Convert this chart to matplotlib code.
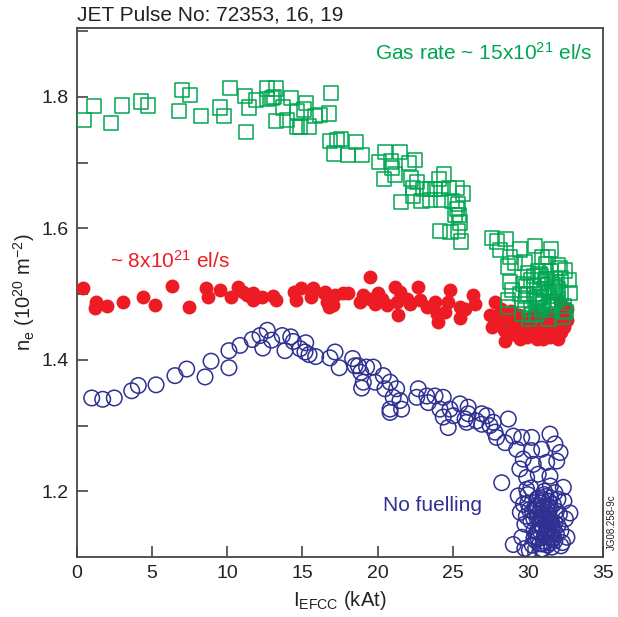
import matplotlib
matplotlib.use('Agg')
import matplotlib.pyplot as plt

plt.rcParams['font.family'] = ['Liberation Sans', 'DejaVu Sans']
plt.rcParams['mathtext.fontset'] = 'custom'
plt.rcParams['mathtext.rm'] = 'Liberation Sans'
plt.rcParams['mathtext.it'] = 'Liberation Sans'

# gas rate ~15e21 el/s (green squares)
gas15_x = [0.49, 1.15, 2.26, 2.97, 4.26, 4.70, 7.01, 7.52, 6.77, 8.25, 9.53, 9.76, 10.16,
           11.18, 11.44, 11.89, 11.24, 12.62, 13.24, 12.62, 12.95, 13.11, 13.73, 14.26,
           13.24, 13.99, 14.62, 15.24, 15.10, 14.62, 14.84, 15.42, 15.84, 16.17, 16.79,
           16.90, 16.83, 17.28, 17.57, 18.54, 17.10, 18.05, 18.98, 20.49, 21.51, 20.11,
           20.87, 20.96, 21.16, 20.43, 22.07, 22.47, 22.20, 22.60, 24.44, 24.07, 22.38,
           23.04, 23.49, 23.84, 24.20, 24.77, 25.30, 25.66, 22.38, 22.93, 23.49, 24.20,
           24.93, 21.56, 25.37, 25.30, 25.15, 25.44, 25.48, 24.15, 24.86, 25.33, 25.55,
           27.63, 27.94, 28.52, 28.14, 29.47, 30.47, 31.54, 28.81, 30.92, 31.32, 32.02,
           32.47, 28.66, 29.14, 32.75, 32.80, 28.81, 28.92, 28.70, 28.70,
           29.6, 29.8, 30.0, 30.2, 30.4, 30.6, 30.8, 31.0, 31.2, 31.4, 31.6, 31.8, 32.0,
           32.2, 32.4, 29.7, 30.1, 30.5, 30.9, 31.3, 31.7, 32.1, 32.5, 29.9, 30.3, 30.7,
           31.1, 31.5, 31.9, 32.3, 29.5, 30.0, 30.6, 31.2, 31.8, 32.4, 30.2, 30.8, 31.4,
           32.0, 30.4, 31.0, 31.6, 29.8, 32.2, 30.6, 31.2, 31.7, 29.9, 30.9, 31.5]
gas15_y = [1.765, 1.786, 1.761, 1.787, 1.793, 1.787, 1.811, 1.803, 1.779, 1.771, 1.784,
           1.771, 1.814, 1.802, 1.784, 1.796, 1.747, 1.813, 1.813, 1.797, 1.798, 1.800,
           1.784, 1.798, 1.763, 1.765, 1.778, 1.791, 1.781, 1.754, 1.754, 1.755, 1.771,
           1.773, 1.775, 1.806, 1.733, 1.735, 1.736, 1.732, 1.714, 1.712, 1.712, 1.716,
           1.716, 1.701, 1.702, 1.692, 1.682, 1.675, 1.700, 1.704, 1.676, 1.671, 1.682,
           1.675, 1.661, 1.660, 1.660, 1.660, 1.660, 1.661, 1.661, 1.653, 1.650, 1.642,
           1.643, 1.643, 1.642, 1.640, 1.637, 1.629, 1.621, 1.620, 1.609, 1.596, 1.594,
           1.596, 1.580, 1.585, 1.580, 1.584, 1.567, 1.568, 1.573, 1.568, 1.556, 1.557,
           1.557, 1.544, 1.536, 1.542, 1.547, 1.521, 1.502, 1.519, 1.506, 1.491, 1.480,
           1.470, 1.485, 1.500, 1.478, 1.512, 1.495, 1.530, 1.488, 1.520, 1.503, 1.476,
           1.510, 1.492, 1.525, 1.482, 1.515, 1.462, 1.493, 1.527, 1.480, 1.505, 1.540,
           1.473, 1.498, 1.468, 1.535, 1.507, 1.483, 1.518, 1.465, 1.500, 1.532, 1.490,
           1.545, 1.511, 1.475, 1.522, 1.496, 1.463, 1.508, 1.528, 1.486, 1.515, 1.548,
           1.500, 1.470, 1.523, 1.490, 1.512, 1.478, 1.535]

# gas rate ~8e21 el/s (red dots)
gas8_x = [0.42, 1.26, 1.20, 2.02, 3.08, 4.37, 5.19, 6.30, 7.45, 8.58, 8.70, 9.51, 10.23,
          10.73, 11.02, 11.29, 11.73, 11.73, 12.29, 13.06, 13.24, 14.44, 14.90, 14.57,
          15.72, 15.57, 16.43, 16.79, 16.50, 17.17, 17.72, 18.05, 16.61, 17.05, 19.49,
          19.05, 18.83, 19.49, 20.05, 20.27, 19.83, 20.61, 21.16, 21.49, 21.27, 21.38,
          21.94, 22.16, 22.71, 22.82, 23.27, 23.82, 23.93, 24.04, 24.82, 24.70, 24.48,
          25.48, 25.48, 25.82, 26.37, 26.48, 27.81, 27.48, 27.59, 28.26, 28.48, 29.03,
          29.47, 29.92, 30.59, 31.02, 31.47, 32.02, 32.14, 32.58, 32.58, 32.14,
          28.0, 28.4, 28.8, 29.2, 29.6, 30.0, 30.4, 30.8, 31.2, 31.6, 32.0, 32.4, 28.2,
          28.6, 29.0, 29.4, 29.8, 30.2, 30.6, 31.0, 31.4, 31.8, 32.2, 28.9, 29.7, 30.5,
          31.3, 32.1, 29.3, 30.1, 30.9, 31.7]
gas8_y = [1.510, 1.488, 1.479, 1.482, 1.488, 1.496, 1.483, 1.512, 1.480, 1.510, 1.496,
          1.507, 1.495, 1.511, 1.504, 1.498, 1.501, 1.491, 1.496, 1.497, 1.491, 1.504,
          1.510, 1.491, 1.510, 1.496, 1.501, 1.480, 1.503, 1.498, 1.501, 1.501, 1.488,
          1.483, 1.526, 1.498, 1.488, 1.493, 1.501, 1.493, 1.485, 1.483, 1.511, 1.503,
          1.488, 1.468, 1.493, 1.485, 1.511, 1.491, 1.480, 1.488, 1.470, 1.458, 1.506,
          1.488, 1.473, 1.480, 1.463, 1.478, 1.498, 1.485, 1.488, 1.468, 1.450, 1.455,
          1.429, 1.440, 1.432, 1.435, 1.432, 1.432, 1.435, 1.432, 1.447, 1.460, 1.478,
          1.488,
          1.465, 1.445, 1.470, 1.452, 1.462, 1.448, 1.458, 1.444, 1.455, 1.447, 1.462,
          1.450, 1.478, 1.458, 1.448, 1.468, 1.440, 1.465, 1.442, 1.460, 1.440, 1.456,
          1.442, 1.475, 1.455, 1.470, 1.466, 1.470, 1.438, 1.452, 1.445, 1.468]

# no fuelling (blue open circles)
nofuel_x = [0.98, 1.71, 2.48, 3.64, 4.08, 5.26, 6.52, 7.30, 8.52, 8.92, 10.11, 10.11,
            10.85, 11.66, 12.18, 12.66, 12.36, 12.95, 13.66, 13.84, 14.22, 14.39, 15.22,
            14.84, 15.17, 15.44, 15.88, 16.83, 17.17, 17.45, 18.34, 18.50, 18.88, 18.94,
            19.05, 19.27, 18.72, 19.71, 19.83, 20.38, 20.49, 20.83, 21.27, 21.04, 21.49,
            20.83, 21.60, 20.83, 22.71, 22.60, 23.27, 23.37, 23.82, 24.37, 24.15, 24.37,
            24.70, 24.82, 25.04, 25.48, 25.82, 26.03, 26.03, 25.93, 26.59, 26.93, 26.93,
            27.26, 27.70, 27.81, 27.48, 27.92, 28.48, 28.70, 28.26, 29.03, 29.59, 30.25,
            29.26, 29.69, 30.25, 30.92, 31.47, 31.80, 32.14, 31.92, 31.25, 30.36, 29.47,
            29.92, 30.69, 31.47, 32.36, 29.36, 29.92, 29.03, 32.80,
            29.7, 30.0, 30.3, 30.6, 30.9, 31.2, 31.5, 31.8, 32.1, 32.4, 29.8, 30.1, 30.4,
            30.7, 31.0, 31.3, 31.6, 31.9, 32.2, 32.5, 29.6, 30.2, 30.5, 30.8, 31.1, 31.4,
            31.7, 32.0, 32.3, 29.9, 30.3, 30.6, 31.0, 31.3, 31.6, 31.9, 32.2, 30.0, 30.4,
            30.8, 31.2, 31.5, 31.8, 30.2, 30.7, 31.1, 31.4, 31.7, 32.6, 29.5, 30.5, 31.0,
            31.6, 30.9, 31.3, 30.6, 31.2, 30.4, 31.5, 30.1, 32.0, 29.8, 30.7,
            30.9, 31.1, 31.3, 31.5, 30.8, 31.0, 31.2, 31.4, 31.6, 30.7, 30.9, 31.1,
            31.3, 31.5, 31.0, 31.2, 31.4, 30.8, 31.6, 31.1, 30.6, 31.3, 31.8, 30.9,
            31.2, 31.4, 30.5, 31.7, 31.0, 31.5]
nofuel_y = [1.342, 1.340, 1.342, 1.353, 1.361, 1.362, 1.376, 1.386, 1.374, 1.398, 1.388,
            1.414, 1.422, 1.431, 1.437, 1.445, 1.418, 1.430, 1.437, 1.414, 1.435, 1.428,
            1.426, 1.417, 1.412, 1.408, 1.405, 1.403, 1.412, 1.388, 1.402, 1.391, 1.381,
            1.357, 1.366, 1.389, 1.391, 1.389, 1.366, 1.376, 1.356, 1.366, 1.356, 1.343,
            1.338, 1.325, 1.325, 1.320, 1.356, 1.343, 1.345, 1.335, 1.345, 1.343, 1.325,
            1.313, 1.297, 1.325, 1.315, 1.333, 1.310, 1.328, 1.318, 1.305, 1.307, 1.318,
            1.302, 1.315, 1.305, 1.290, 1.300, 1.282, 1.274, 1.310, 1.213, 1.284, 1.282,
            1.282, 1.264, 1.249, 1.262, 1.264, 1.287, 1.272, 1.259, 1.246, 1.244, 1.241,
            1.234, 1.221, 1.226, 1.223, 1.206, 1.193, 1.203, 1.119, 1.167,
            1.180, 1.195, 1.170, 1.188, 1.160, 1.192, 1.175, 1.198, 1.165, 1.185, 1.150,
            1.172, 1.140, 1.165, 1.145, 1.178, 1.152, 1.170, 1.140, 1.158, 1.130, 1.155,
            1.125, 1.150, 1.132, 1.160, 1.128, 1.148, 1.122, 1.162, 1.118, 1.138, 1.120,
            1.140, 1.115, 1.135, 1.117, 1.182, 1.158, 1.120, 1.155, 1.130, 1.125, 1.205,
            1.190, 1.200, 1.185, 1.140, 1.130, 1.168, 1.178, 1.112, 1.145, 1.112, 1.165,
            1.175, 1.135, 1.128, 1.208, 1.110, 1.188, 1.113, 1.137,
            1.150, 1.160, 1.145, 1.155, 1.170, 1.175, 1.135, 1.165, 1.142, 1.128, 1.182,
            1.124, 1.138, 1.190, 1.158, 1.148, 1.172, 1.140, 1.128, 1.195, 1.160, 1.118,
            1.152, 1.162, 1.130, 1.142, 1.172, 1.180, 1.185, 1.122]

green = '#00a651'
red = '#ed1c24'
navy = '#2e3192'

fig = plt.figure(figsize=(6.18, 6.17), dpi=100)
ax = fig.add_axes([77/618, 60/617, 526/618, 529/617])

ax.scatter(nofuel_x, nofuel_y, s=125, marker='o', facecolors='none', edgecolors=navy,
           linewidths=1.1, zorder=2)
ax.scatter(gas8_x, gas8_y, s=100, marker='o', color=red, linewidths=0, zorder=3)
ax.scatter(gas15_x, gas15_y, s=105, marker='s', facecolors='none', edgecolors=green,
           linewidths=1.1, zorder=4)

ax.set_xlim(0, 35)
ax.set_ylim(1.1, 1.905)
ax.set_xticks(range(0, 36, 5))
yt = [1.2, 1.3, 1.4, 1.5, 1.6, 1.7, 1.8, 1.9]
ax.set_yticks(yt)
ax.set_yticklabels(['1.2', '', '1.4', '', '1.6', '', '1.8', ''])
ax.tick_params(direction='in', length=8, width=1.2, color='#444444', labelsize=14,
               pad=6, labelcolor='#222222')
for sp in ax.spines.values():
    sp.set_color('#444444')
    sp.set_linewidth(1.3)

ax.set_xlabel(r'I$_\mathrm{EFCC}$ (kAt)', fontsize=14.5, labelpad=5, color='#222222')
ax.set_ylabel(r'n$_\mathrm{e}$ (10$^{20}$ m$^{-2}$)', fontsize=14.5, labelpad=3,
              color='#222222')

fig.text(77/618, 1 - 15/617, 'JET Pulse No: 72353, 16, 19', fontsize=15,
         ha='left', va='center', color='#222222')
ax.text(19.85, 1.867, r'Gas rate ~ 15x10$^{21}$ el/s', color=green, fontsize=15,
        va='center')
ax.text(2.2, 1.551, r'~ 8x10$^{21}$ el/s', color=red, fontsize=15, va='center')
ax.text(20.36, 1.179, 'No fuelling', color=navy, fontsize=15, va='center')
fig.text(612/618, 1 - 522/617, 'JG08.258-9c', rotation=90, fontsize=7,
         ha='center', va='center', color='#222222')

fig.savefig('out.png', dpi=100)
